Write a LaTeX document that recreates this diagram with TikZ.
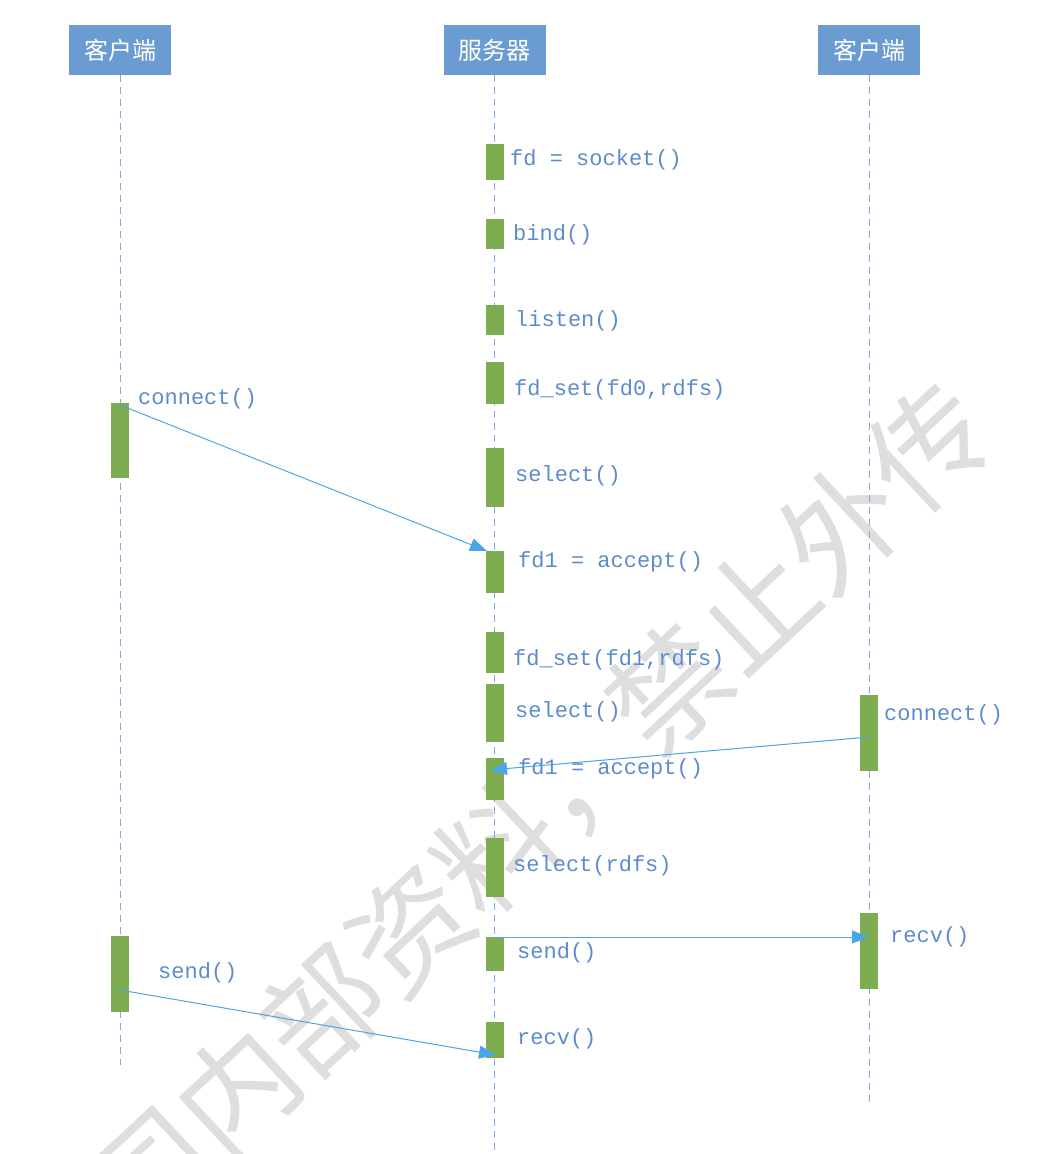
\documentclass[tikz,border=0pt]{standalone}
\usepackage{fontspec}
\setmonofont{Liberation Mono}
\newfontfamily\cjk{Noto Sans CJK SC}
\usetikzlibrary{arrows.meta}
\definecolor{hdrblue}{RGB}{106,155,209}
\definecolor{barGreen}{RGB}{126,172,80}
\definecolor{lblBlue}{RGB}{93,140,205}
\definecolor{lifeBlue}{RGB}{130,168,218}
\definecolor{msgBlue}{RGB}{74,166,232}
\definecolor{wmGray}{RGB}{222,222,222}
\tikzset{
  hdr/.style={draw=none, fill=hdrblue, text=white, minimum width=102pt, minimum height=50pt, inner sep=0pt, font=\cjk\fontsize{24}{28}\selectfont},
  bar/.style={draw=none, fill=barGreen, minimum width=18pt, inner sep=0pt},
  lbl/.style={anchor=west, inner sep=0pt, text=lblBlue, font=\ttfamily\fontsize{22}{26}\selectfont},
  life/.style={draw=lifeBlue, line width=1pt, dash pattern=on 7pt off 5pt},
  msg/.style={draw=msgBlue, line width=1pt, -{Triangle[length=17pt,width=13pt]}},
  wmark/.style={rotate=43, text=wmGray, inner sep=0pt, font=\cjk\fontsize{118}{118}\selectfont}
}
\begin{document}
\begin{tikzpicture}[x=1pt,y=-1pt]
\useasboundingbox (0,0) rectangle (1056,1154);
\fill[white] (0,0) rectangle (1056,1154);
% watermark
\node[wmark] (wm) at (497,850) {公司内部资料，禁止外传};
% headers
\node[hdr] (c1) at (120,50) {客户端};
\node[hdr] (srv) at (494.5,50) {服务器};
\node[hdr] (c2) at (869,50) {客户端};
% lifeline ends
\coordinate (c1end) at (120,1065);
\coordinate (srvend) at (494.5,1154);
\coordinate (c2end) at (869,1105);
\draw[life] (c1.south) -- (c1end);
\draw[life] (srv.south) -- (srvend);
\draw[life] (c2.south) -- (c2end);
% server bars
\node[bar, minimum height=36pt] (s1) at (495,162) {};
\node[bar, minimum height=30pt] (s2) at (495,234) {};
\node[bar, minimum height=30pt] (s3) at (495,320) {};
\node[bar, minimum height=42pt] (s4) at (495,383) {};
\node[bar, minimum height=59pt] (s5) at (495,477.5) {};
\node[bar, minimum height=42pt] (s6) at (495,572) {};
\node[bar, minimum height=41pt] (s7) at (495,652.5) {};
\node[bar, minimum height=58pt] (s8) at (495,713) {};
\node[bar, minimum height=42pt] (s9) at (495,779) {};
\node[bar, minimum height=59pt] (s10) at (495,867.5) {};
\node[bar, minimum height=34pt] (s11) at (495,954) {};
\node[bar, minimum height=36pt] (s12) at (495,1040) {};
% client bars
\node[bar, minimum height=75pt] (l1) at (120,440.5) {};
\node[bar, minimum height=76pt] (l2) at (120,974) {};
\node[bar, minimum height=76pt] (r1) at (869,733) {};
\node[bar, minimum height=76pt] (r2) at (869,951) {};
% labels
\node[lbl] (t1) at (510,160) {fd = socket()};
\node[lbl] (t2) at (513,235) {bind()};
\node[lbl] (t3) at (515,321) {listen()};
\node[lbl] (t4) at (514,390) {fd\_set(fd0,rdfs)};
\node[lbl] (t5) at (515,476) {select()};
\node[lbl] (t6) at (518,562) {fd1 = accept()};
\node[lbl] (t7) at (513,660) {fd\_set(fd1,rdfs)};
\node[lbl] (t8) at (515,712) {select()};
\node[lbl] (t9) at (518,769) {fd1 = accept()};
\node[lbl] (t10) at (513,866) {select(rdfs)};
\node[lbl] (t11) at (517,953) {send()};
\node[lbl] (t12) at (517,1039) {recv()};
\node[lbl] (t13) at (138,399) {connect()};
\node[lbl] (t14) at (884,715) {connect()};
\node[lbl] (t15) at (890,937) {recv()};
\node[lbl] (t16) at (158,973) {send()};
% message endpoints
\coordinate (m1a) at (120,405);
\coordinate (m1b) at (487,551);
\coordinate (m2a) at (869,737);
\coordinate (m2b) at (490,770);
\coordinate (m3a) at (495,937);
\coordinate (m3b) at (869,937);
\coordinate (m4a) at (120,990);
\coordinate (m4b) at (496,1055);
\draw[msg] (m1a) -- (m1b);
\draw[msg] (m2a) -- (m2b);
\draw[msg] (m3a) -- (m3b);
\draw[msg] (m4a) -- (m4b);
\end{tikzpicture}
\end{document}
